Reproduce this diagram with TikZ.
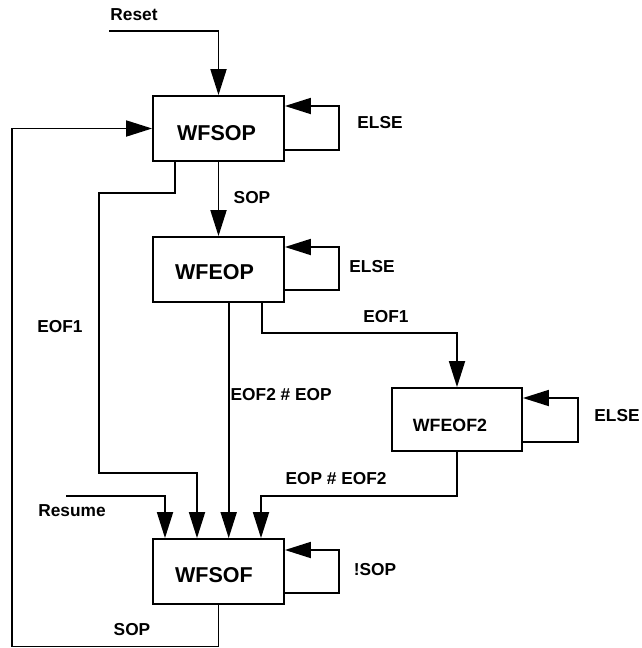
\documentclass[tikz,border=0pt]{standalone}
\usepackage{fontspec}
\setmainfont{Liberation Sans}
\usetikzlibrary{arrows.meta}
\newcommand{\boxtext}[3]{\makebox[0pt]{\hspace*{#1}\raisebox{#2}[0pt][0pt]{#3}}}
\begin{document}
\begin{tikzpicture}[x=1pt,y=-1pt,
  state/.style={draw, line width=1.8pt, minimum width=131pt, minimum height=65pt, inner sep=0pt,
    font=\bfseries\fontsize{21.5}{24}\selectfont},
  smallstate/.style={state, minimum width=130pt, minimum height=63pt, font=\bfseries\fontsize{17.8}{20}\selectfont},
  lbl/.style={inner sep=0pt, font=\bfseries\fontsize{17.3}{20}\selectfont},
  arr/.style={line width=1.8pt, -{Triangle[length=26pt,width=16pt]}}]
\useasboundingbox (0,0) rectangle (642,648);
% states
\node[state] (wfsop) at (218.5,128.5) {\boxtext{-4pt}{-12.2pt}{WFSOP}};
\node[state] (wfeop) at (218.5,269.5) {\boxtext{-8pt}{-9.7pt}{WFEOP}};
\node[smallstate] (wfeof2) at (457,419.5) {\boxtext{-14pt}{-11.9pt}{WFEOF2}};
\node[state] (wfsof) at (218.5,571.5) {\boxtext{-9pt}{-10.7pt}{WFSOF}};
% coordinates
\coordinate (rst) at (109,31);
\coordinate (blc) at (12,646.5);
\coordinate (e1a) at (99,193);
\coordinate (e1b) at (99,473);
\coordinate (res) at (66,496);
\coordinate (c1) at (457,333);
\coordinate (c2) at (261,496);
% connectors
\draw[arr] (rst) -| (wfsop.north);
\draw[arr] (wfsop.south) -- (wfeop.north);
\draw[arr] ([yshift=-21.5pt]wfsop.east) -- ++(54,0) |- ([yshift=22.5pt]wfsop.east);
\draw[arr] ([yshift=-20.5pt]wfeop.east) -- ++(54,0) |- ([yshift=22.5pt]wfeop.east);
\draw[arr] ([yshift=-22.5pt]wfeof2.east) -- ++(55,0) |- ([yshift=21.5pt]wfeof2.east);
\draw[arr] ([yshift=-21.5pt]wfsof.east) -- ++(54,0) |- ([yshift=21.5pt]wfsof.east);
\draw[arr] (wfsof.south) |- (blc) |- (wfsop.west);
\draw[arr] ([xshift=-43.5pt]wfsop.south) |- (e1a) -- (e1b) -| ([xshift=-21.5pt]wfsof.north);
\draw[arr] (res) -| ([xshift=-53.5pt]wfsof.north);
\draw[arr] ([xshift=10.2pt]wfeop.south) -- ([xshift=10.2pt]wfsof.north);
\draw[arr] ([xshift=43.5pt]wfeop.south) |- (c1) -- (wfeof2.north);
\draw[arr] (wfeof2.south) |- (c2) -- ([xshift=42.5pt]wfsof.north);
% labels
\node[lbl] (lreset) at (134,15) {Reset};
\node[lbl] (lelse1) at (380,123) {ELSE};
\node[lbl] (lsop1) at (252,198) {SOP};
\node[lbl] (lelse2) at (372,267) {ELSE};
\node[lbl] (leof1r) at (386,317) {EOF1};
\node[lbl] (leof1l) at (60,327) {EOF1};
\node[lbl, anchor=west] (leof2eop) at (230.5,395) {EOF2 \# EOP};
\node[lbl] (lelse3) at (617,416) {ELSE};
\node[lbl] (leopeof2) at (336,479) {EOP \# EOF2};
\node[lbl] (lresume) at (72,511) {Resume};
\node[lbl] (lnsop) at (375,570) {!SOP};
\node[lbl] (lsop2) at (132,630) {SOP};
\end{tikzpicture}
\end{document}
